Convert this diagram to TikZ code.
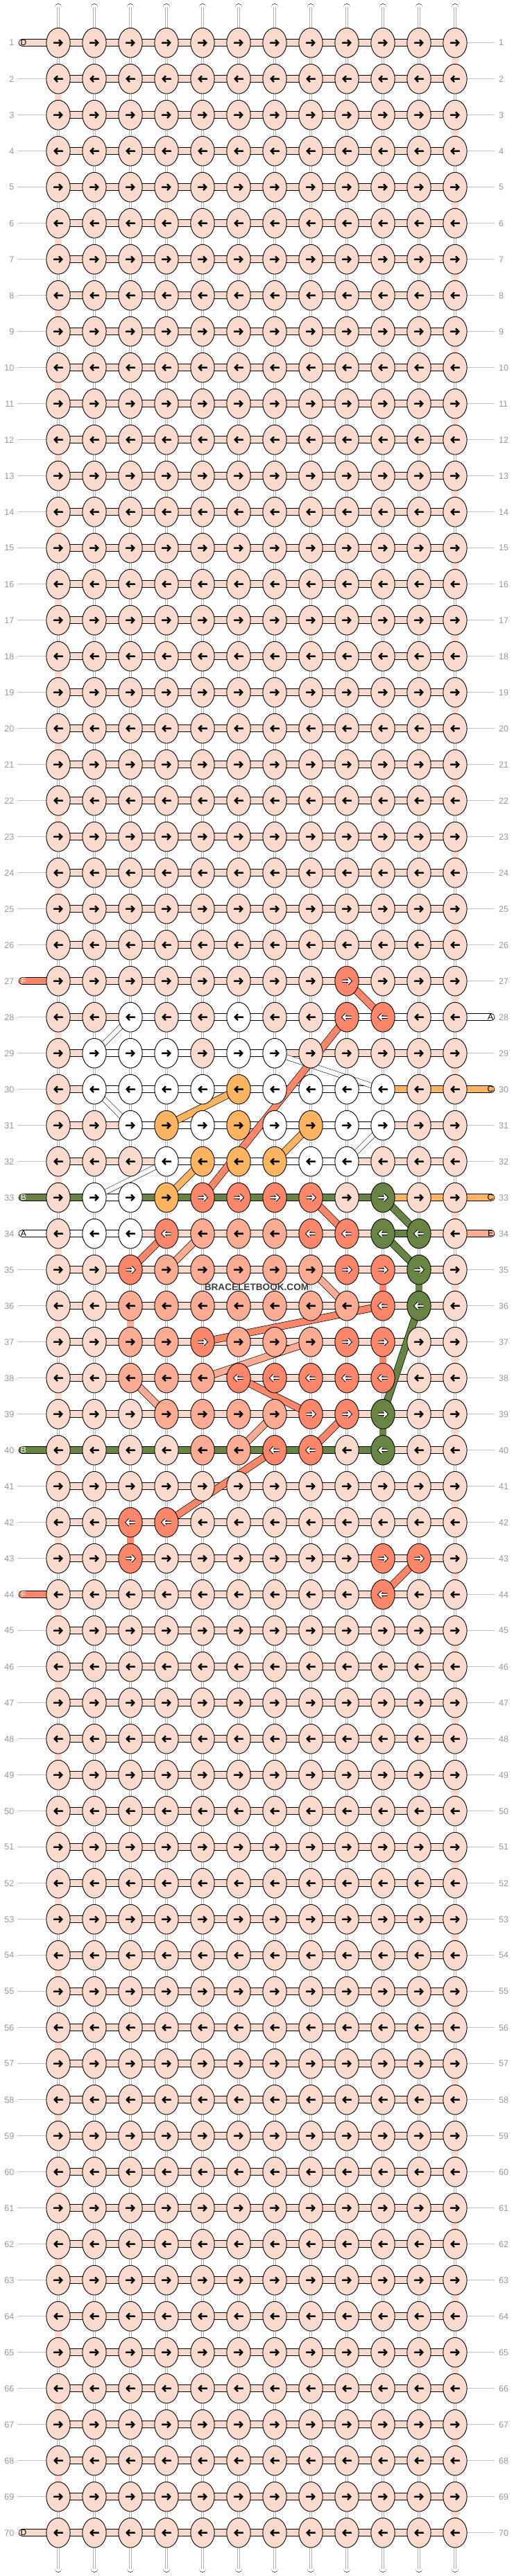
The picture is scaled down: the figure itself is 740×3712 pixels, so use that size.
\documentclass[tikz,border=0pt]{standalone}
\usepackage{fontspec}
\setmainfont{Liberation Sans}
\usetikzlibrary{shapes.geometric}
\pgfdeclarelayer{bg}
\pgfsetlayers{bg,main}
\definecolor{cD}{RGB}{251,218,206}
\definecolor{cW}{RGB}{255,255,255}
\definecolor{cE}{RGB}{252,172,146}
\definecolor{cF}{RGB}{252,134,106}
\definecolor{cO}{RGB}{252,180,97}
\definecolor{cG}{RGB}{104,132,67}
\definecolor{lab}{RGB}{150,150,150}
\definecolor{tick}{RGB}{190,190,190}
\definecolor{innergray}{RGB}{175,175,175}
\definecolor{wmark}{RGB}{60,60,60}
% arrow widths / colours per knot colour
\def\awD{2.2pt}\def\awW{2.2pt}\def\awE{2.2pt}\def\awO{2.2pt}\def\awF{4.2pt}\def\awG{4.2pt}
\def\acD{black}\def\acW{black}\def\acE{black}\def\acO{black}\def\acF{white}\def\acG{white}
% knot colours of the pattern rows
\expandafter\def\csname KR27\endcsname{D,D,D,D,D,D,D,D,F,D,D,D}
\expandafter\def\csname KR28\endcsname{D,D,W,D,D,W,D,D,F,F,D,D}
\expandafter\def\csname KR29\endcsname{D,W,W,W,D,W,W,D,D,D,D,D}
\expandafter\def\csname KR30\endcsname{D,W,W,W,W,O,W,W,W,W,D,D}
\expandafter\def\csname KR31\endcsname{D,D,W,O,W,O,W,O,W,W,D,D}
\expandafter\def\csname KR32\endcsname{D,D,D,W,O,O,O,W,W,D,D,D}
\expandafter\def\csname KR33\endcsname{D,W,W,O,F,F,F,F,D,G,D,D}
\expandafter\def\csname KR34\endcsname{D,W,W,F,E,E,E,F,F,G,G,D}
\expandafter\def\csname KR35\endcsname{D,D,F,E,E,E,E,E,F,F,G,D}
\expandafter\def\csname KR36\endcsname{D,D,E,E,E,E,E,E,E,F,G,D}
\expandafter\def\csname KR37\endcsname{D,D,E,E,F,E,E,E,F,F,D,D}
\expandafter\def\csname KR38\endcsname{D,D,E,E,E,F,F,F,F,F,D,D}
\expandafter\def\csname KR39\endcsname{D,D,D,E,E,E,E,F,F,G,D,D}
\expandafter\def\csname KR40\endcsname{D,D,D,D,E,E,F,F,D,G,D,D}
\expandafter\def\csname KR42\endcsname{D,D,F,F,D,D,D,D,D,D,D,D}
\expandafter\def\csname KR43\endcsname{D,D,F,D,D,D,D,D,D,F,F,D}
\expandafter\def\csname KR44\endcsname{D,D,D,D,D,D,D,D,D,F,D,D}
% horizontal thread colours of the pattern rows
\expandafter\def\csname HR28\endcsname{D,D,W,W,W,W,W,W,W,W,W}
\expandafter\def\csname HR29\endcsname{D,W,W,W,W,W,D,D,D,D,D}
\expandafter\def\csname HR30\endcsname{D,W,W,W,W,W,W,W,W,O,O}
\expandafter\def\csname HR31\endcsname{D,D,W,W,W,W,W,W,W,D,D}
\expandafter\def\csname HR32\endcsname{D,D,D,W,W,W,W,W,D,D,D}
\expandafter\def\csname HR33\endcsname{G,W,G,G,G,G,G,G,G,O,O}
\expandafter\def\csname HR34\endcsname{W,W,D,D,D,D,D,D,D,G,D}
\expandafter\def\csname HR40\endcsname{G,G,G,G,G,G,G,G,G,D,D}
% rows with thread ends instead of tick lines
\expandafter\def\csname LS1\endcsname{}\expandafter\def\csname LS27\endcsname{}
\expandafter\def\csname LS33\endcsname{}\expandafter\def\csname LS34\endcsname{}
\expandafter\def\csname LS40\endcsname{}\expandafter\def\csname LS44\endcsname{}
\expandafter\def\csname LS70\endcsname{}
\expandafter\def\csname RS28\endcsname{}\expandafter\def\csname RS30\endcsname{}
\expandafter\def\csname RS33\endcsname{}\expandafter\def\csname RS34\endcsname{}
\begin{document}
\begin{tikzpicture}[x=1pt,y=-1pt,
  knot/.style={ellipse, draw=black, line width=0.9pt, minimum width=34.3pt, minimum height=42.7pt, inner sep=0pt},
  band/.style={draw=black, double=#1, double distance=9.3pt, line width=0.7pt},
  thinband/.style={draw=black, double=#1, double distance=6.5pt, line width=0.5pt},
  vgray/.style={draw=innergray, line width=0.45pt},
  tickline/.style={draw=tick, line width=0.8pt},
  numlab/.style={text=lab, font=\fontsize{12.5}{12.5}\selectfont, inner sep=0pt},
  letlab/.style={font=\fontsize{12}{12}\selectfont, inner sep=0pt},
  apath/.style={line cap=butt, line join=miter, miter limit=4}]
\useasboundingbox (0,0) rectangle (740,3712);
% ---------------- knots ----------------
\foreach \r in {1,...,70}{
  \ifcsname KR\r\endcsname \edef\klist{\csname KR\r\endcsname}\else \def\klist{D,D,D,D,D,D,D,D,D,D,D,D}\fi
  \pgfmathsetmacro\yy{61.7+(\r-1)*52}
  \ifodd\r\relax \def\sx{1}\else \def\sx{-1}\fi
  \foreach \k [count=\c] in \klist {
    \pgfmathsetmacro\xx{84+(\c-1)*52}
    \node[knot, fill=c\k] (k-\r-\c) at (\xx,\yy) {};
    \begin{scope}[shift={(\xx,\yy)}, xscale=\sx]
      \draw[apath, black, line width=\csname aw\k\endcsname] (-6.7,0) -- (5.2,0) (1.1,-4.3) -- (5.2,0) -- (1.1,4.3);
      \draw[apath, draw=\csname ac\k\endcsname, line width=2.2pt] (-6.7,0) -- (5.2,0) (1.1,-4.3) -- (5.2,0) -- (1.1,4.3);
    \end{scope}
  }
}
% ---------------- threads (behind the knots) ----------------
\begin{pgfonlayer}{bg}
\foreach \c in {1,...,12}{
  \pgfmathsetmacro\xx{84+(\c-1)*52}
  \coordinate (top-\c) at (\xx,10.5);
  \coordinate (bot-\c) at (\xx,3701.5);
  \draw[band=white, line cap=round] (top-\c) -- (k-1-\c.center);
  \draw[band=white, line cap=round] (k-70-\c.center) -- (bot-\c);
  \draw[vgray] ([xshift=-1.4pt]top-\c) -- ([xshift=-1.4pt]k-1-\c.center)
               ([xshift=1.4pt]top-\c) -- ([xshift=1.4pt]k-1-\c.center)
               ([xshift=-1.4pt]k-70-\c.center) -- ([xshift=-1.4pt]bot-\c)
               ([xshift=1.4pt]k-70-\c.center) -- ([xshift=1.4pt]bot-\c);
}
\foreach \r in {1,...,69}{
  \pgfmathtruncatemacro\rn{\r+1}
  \foreach \c in {1,...,12}{
    \draw[band=white] (k-\r-\c.center) -- (k-\rn-\c.center);
    \draw[vgray] ([xshift=-1.4pt]k-\r-\c.center) -- ([xshift=-1.4pt]k-\rn-\c.center)
                 ([xshift=1.4pt]k-\r-\c.center) -- ([xshift=1.4pt]k-\rn-\c.center);
  }
}
% turnarounds at the edges
\foreach \r in {2,4,...,68}{
  \pgfmathtruncatemacro\rn{\r+1}
  \ifnum\r=26\relax\else \draw[band=cD] (k-\r-1.center) -- (k-\rn-1.center);\fi
}
\foreach \r in {1,3,...,69}{
  \pgfmathtruncatemacro\rn{\r+1}
  \draw[band=cD] (k-\r-12.center) -- (k-\rn-12.center);
}
% coloured vertical threads
\foreach \r/\c/\col in {35/10/F, 37/10/F, 35/11/G, 39/10/G, 36/3/E, 42/3/F}{
  \pgfmathtruncatemacro\rn{\r+1}
  \draw[band=c\col] (k-\r-\c.center) -- (k-\rn-\c.center);
}
% horizontal threads
\foreach \r in {1,...,70}{
  \ifcsname HR\r\endcsname \edef\hlist{\csname HR\r\endcsname}\else \def\hlist{D,D,D,D,D,D,D,D,D,D,D}\fi
  \foreach \h [count=\c] in \hlist {
    \pgfmathtruncatemacro\cn{\c+1}
    \draw[band=c\h] (k-\r-\c.center) -- (k-\r-\cn.center);
  }
}
% diagonal white threads
\foreach \ra/\ca/\rb/\cb in {28/3/29/2, 30/2/31/3, 32/4/33/2, 29/7/30/10, 31/10/32/9}{
  \draw[thinband=white] (k-\ra-\ca.center) -- (k-\rb-\cb.center);
}
% diagonal coloured threads
\foreach \ra/\ca/\rb/\cb/\col in {30/6/31/4/O, 31/8/32/7/O, 32/5/33/4/O,
  27/9/28/10/F, 28/9/33/5/F, 33/8/34/9/F, 34/4/35/3/F, 36/10/37/5/F, 38/6/39/8/F,
  40/8/39/9/F, 42/4/40/7/F, 44/10/43/11/F,
  34/5/35/4/E, 35/8/36/9/E, 38/5/37/8/E, 38/3/39/4/E, 40/6/39/7/E,
  33/10/34/11/G, 34/10/35/11/G, 36/11/39/10/G}{
  \draw[band=c\col] (k-\ra-\ca.center) -- (k-\rb-\cb.center);
}
% thread ends with letters
\foreach \r/\col in {1/D, 27/F, 33/G, 34/W, 40/G, 44/F, 70/D}{
  \pgfmathsetmacro\yy{61.7+(\r-1)*52}
  \coordinate (L-\r) at (32,\yy);
  \draw[band=c\col, line cap=round] (k-\r-1.center) -- (L-\r);
}
\foreach \r/\col in {28/W, 30/O, 33/O, 34/E}{
  \pgfmathsetmacro\yy{61.7+(\r-1)*52}
  \coordinate (R-\r) at (708,\yy);
  \draw[band=c\col, line cap=round] (k-\r-12.center) -- (R-\r);
}
\end{pgfonlayer}
% letters on thread ends
\foreach \r/\txt/\tc in {1/D/black, 27/F/white, 33/B/white, 34/A/black, 40/B/white, 44/F/white, 70/D/black}{
  \node[letlab, text=\tc] (LT-\r) at ([xshift=2pt]L-\r) {\txt};
}
\foreach \r/\txt in {28/A, 30/C, 33/C, 34/E}{
  \node[letlab, text=black] (RT-\r) at ([xshift=-1pt]R-\r) {\txt};
}
% row numbers and tick lines
\foreach \r in {1,...,70}{
  \pgfmathsetmacro\yy{61.7+(\r-1)*52}
  \node[numlab, anchor=east] (nl-\r) at (20.5,\yy) {\r};
  \node[numlab, anchor=west] (nr-\r) at (719,\yy) {\r};
  \ifcsname LS\r\endcsname\else
    \coordinate (tl-\r) at (26,\yy);
    \draw[tickline] (tl-\r) -- (k-\r-1.west);
  \fi
  \ifcsname RS\r\endcsname\else
    \coordinate (tr-\r) at (713.3,\yy);
    \draw[tickline] (k-\r-12.east) -- (tr-\r);
  \fi
}
% watermark
\node[font=\bfseries\fontsize{13.6}{13.6}\selectfont, text=wmark, inner sep=0pt] (wm) at (370,1855) {BRACELETBOOK.COM};
\end{tikzpicture}
\end{document}
